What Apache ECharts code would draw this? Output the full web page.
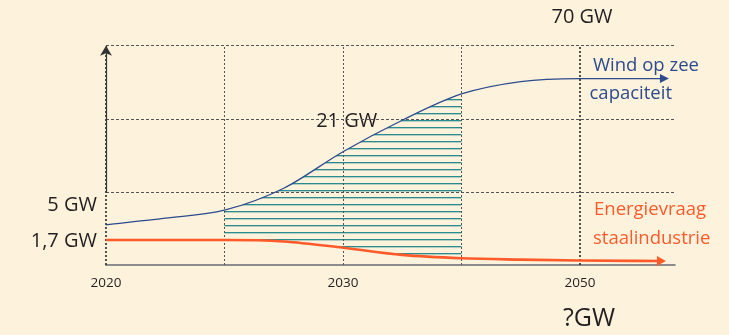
<!DOCTYPE html>
<html>
<head>
<meta charset="utf-8">
<script src="https://cdn.jsdelivr.net/npm/echarts@6/dist/echarts.min.js"></script>
<style>
  html, body { margin: 0; padding: 0; background: #fdf3dd; }
  #chart { width: 729px; height: 335px; }
</style>
</head>
<body>
<div id="chart"></div>
<script>
// Timeline positions: 0 = 2020, 1 = 2025, 2 = 2030, 3 = 2035, 4 = 2050
const steps = [0, 0.5, 1, 1.5, 2, 2.5, 3, 3.5, 4, 4.7];
// Offshore wind capacity (relative height on the sketch scale)
const windCapacity = [0.55, 0.64, 0.75, 1.05, 1.55, 1.98, 2.34, 2.51, 2.55, 2.55];
// Energy demand of the steel industry (same scale)
const steelDemand = [0.342, 0.342, 0.342, 0.322, 0.237, 0.138, 0.092, 0.074, 0.062, 0.055];
// Year labels along the time axis
const tickPositions = [0, 2, 4];
const tickLabels = ['2020', '2030', '2050'];
// Vertical reference lines (2020 and 2050 drawn heavier)
const gridPositions = [0, 1, 2, 3, 4];
const heavyGridPositions = [0, 4];
// Period in which the wind surplus is hatched
const hatchRange = [1, 3];

const FONT = '"Open Sans", "Noto Sans", sans-serif';
const DARK = '#231f20';
const WIND = '#2c4a8c';
const STEEL = '#ff5a2a';
const HATCH = '#2b8c8f';
const Y_TOP = 3;

function hatchPattern() {
  const c = document.createElement('canvas');
  c.width = 8; c.height = 7;
  const g = c.getContext('2d');
  g.fillStyle = HATCH;
  g.fillRect(0, 1, 8, 1);
  g.globalAlpha = 0.35;
  g.fillRect(0, 2, 8, 1);
  return c;
}

// Monotone cubic (Fritsch-Carlson) tangents, so flat stretches stay flat
function tangents(xs, ys) {
  const n = xs.length, d = [], m = [];
  for (let i = 0; i < n - 1; i++) d[i] = (ys[i + 1] - ys[i]) / (xs[i + 1] - xs[i]);
  m[0] = d[0]; m[n - 1] = d[n - 2];
  for (let i = 1; i < n - 1; i++) m[i] = d[i - 1] * d[i] <= 0 ? 0 : (d[i - 1] + d[i]) / 2;
  for (let i = 0; i < n - 1; i++) {
    if (d[i] === 0) { m[i] = 0; m[i + 1] = 0; continue; }
    const a = m[i] / d[i], b = m[i + 1] / d[i], s = a * a + b * b;
    if (s > 9) { const t = 3 / Math.sqrt(s); m[i] = t * a * d[i]; m[i + 1] = t * b * d[i]; }
  }
  return m;
}

// Bezier segments of a curve between indices [from, to], in pixel space
function segments(ys, from, to, api) {
  const m = tangents(steps, ys), out = [];
  for (let i = from; i < to; i++) {
    const h = steps[i + 1] - steps[i];
    out.push({
      p0: api.coord([steps[i], ys[i]]),
      c1: api.coord([steps[i] + h / 3, ys[i] + m[i] * h / 3]),
      c2: api.coord([steps[i + 1] - h / 3, ys[i + 1] - m[i + 1] * h / 3]),
      p1: api.coord([steps[i + 1], ys[i + 1]])
    });
  }
  return out;
}
const pt = (p) => p[0].toFixed(2) + ' ' + p[1].toFixed(2);
function forwardPath(segs) {
  let d = 'M ' + pt(segs[0].p0);
  segs.forEach((s) => { d += ' C ' + pt(s.c1) + ' ' + pt(s.c2) + ' ' + pt(s.p1); });
  return d;
}
function backwardPath(segs) {
  let d = ' L ' + pt(segs[segs.length - 1].p1);
  for (let i = segs.length - 1; i >= 0; i--) {
    const s = segs[i];
    d += ' C ' + pt(s.c2) + ' ' + pt(s.c1) + ' ' + pt(s.p0);
  }
  return d;
}

function arrowHead(seg, color, len, back, half) {
  const e = seg.p1, c = seg.c2;
  let dx = e[0] - c[0], dy = e[1] - c[1];
  const L = Math.hypot(dx, dy) || 1; dx /= L; dy /= L;
  const bx = e[0] - dx * back, by = e[1] - dy * back;
  return {
    type: 'polygon',
    shape: { points: [[e[0] + dx * len, e[1] + dy * len], [bx - dy * half, by + dx * half], [bx + dy * half, by - dx * half]] },
    style: { fill: color }
  };
}

function curveSeries(name, ys, color, width, arrow) {
  return {
    name: name, type: 'custom', coordinateSystem: 'cartesian2d', z: 5, silent: true,
    data: steps.map((x, i) => [x, ys[i]]),
    encode: { x: 0, y: 1 },
    renderItem: (params, api) => {
      if (params.dataIndex !== 0) return null;
      const segs = segments(ys, 0, steps.length - 1, api);
      return {
        type: 'group',
        children: [
          { type: 'path', shape: { pathData: forwardPath(segs) },
            style: { fill: 'none', stroke: color, lineWidth: width, lineJoin: 'round' } },
          arrowHead(segs[segs.length - 1], color, arrow[0], arrow[1], arrow[2])
        ]
      };
    }
  };
}

const chart = echarts.init(document.getElementById('chart'), null, { renderer: 'canvas' });

chart.setOption({
  animation: false,
  backgroundColor: '#fdf3dd',
  grid: { left: 106, top: 45.7, width: 568.8, height: 219.3 },
  xAxis: {
    type: 'value', min: 0, max: 4.8, interval: 1,
    axisLine: { show: true, lineStyle: { color: '#8c8c8c', width: 2 } },
    axisTick: { show: false },
    splitLine: { show: false },
    axisLabel: {
      margin: 11, fontSize: 13.5, color: DARK, fontFamily: FONT,
      formatter: (v) => { const i = tickPositions.indexOf(v); return i >= 0 ? tickLabels[i] : ''; }
    }
  },
  yAxis: {
    type: 'value', min: 0, max: Y_TOP, interval: 1,
    axisLine: { show: false },
    axisTick: { show: false },
    axisLabel: { show: false },
    splitLine: { show: true, lineStyle: { color: '#555', width: 1, type: [3, 2] } }
  },
  series: [
    // hatched surplus between demand and wind capacity
    {
      type: 'custom', coordinateSystem: 'cartesian2d', z: 2, silent: true,
      data: steps.map((x, i) => [x, steelDemand[i], windCapacity[i]]),
      encode: { x: 0, y: [1, 2] },
      renderItem: (params, api) => {
        if (params.dataIndex !== 0) return null;
        const from = steps.indexOf(hatchRange[0]), to = steps.indexOf(hatchRange[1]);
        const top = segments(windCapacity, from, to, api);
        const bottom = segments(steelDemand, from, to, api);
        return {
          type: 'path',
          shape: { pathData: forwardPath(top) + backwardPath(bottom) + ' Z' },
          style: { fill: { image: hatchPattern(), repeat: 'repeat' }, stroke: null }
        };
      }
    },
    // vertical year lines and the vertical axis with its arrow
    {
      type: 'line', z: 3,
      data: gridPositions.map((x) => [x, 0]), symbol: 'none', silent: true,
      lineStyle: { opacity: 0 },
      markLine: {
        silent: true, symbol: 'none', label: { show: false },
        data: gridPositions.map((x) => ({
          xAxis: x,
          lineStyle: heavyGridPositions.indexOf(x) >= 0
            ? { color: '#2a2a2a', width: 1.6, type: [2, 2] }
            : { color: '#555', width: 1, type: [2, 2] }
        })).concat([[
          { coord: [0, 1], symbol: 'none' },
          { coord: [0, Y_TOP], symbol: 'arrow', symbolSize: [9, 10],
            lineStyle: { color: '#333', width: 1.2, type: 'solid' } }
        ]])
      }
    },
    curveSeries('Wind op zee capaciteit', windCapacity, WIND, 1.3, [6, 3, 4.5]),
    curveSeries('Energievraag staalindustrie', steelDemand, STEEL, 2.6, [3, 6, 5])
  ],
  graphic: [
    { type: 'text', x: 582, y: 17.2, silent: true, style: { text: '70 GW', fill: DARK, font: '20px ' + FONT, align: 'center', verticalAlign: 'middle' } },
    { type: 'text', x: 346.7, y: 121.5, silent: true, style: { text: '21 GW', fill: DARK, font: '20px ' + FONT, align: 'center', verticalAlign: 'middle' } },
    { type: 'text', x: 97, y: 205, silent: true, style: { text: '5 GW', fill: DARK, font: '20px ' + FONT, align: 'right', verticalAlign: 'middle' } },
    { type: 'text', x: 97, y: 241.3, silent: true, style: { text: '1,7 GW', fill: DARK, font: '20px ' + FONT, align: 'right', verticalAlign: 'middle' } },
    { type: 'text', x: 593, y: 66.1, silent: true, style: { text: 'Wind op zee', fill: WIND, font: '18.5px ' + FONT, align: 'left', verticalAlign: 'middle' } },
    { type: 'text', x: 589.5, y: 93.8, silent: true, style: { text: 'capaciteit', fill: WIND, font: '18.5px ' + FONT, align: 'left', verticalAlign: 'middle' } },
    { type: 'text', x: 594, y: 210.1, silent: true, style: { text: 'Energievraag', fill: STEEL, font: '18.5px ' + FONT, align: 'left', verticalAlign: 'middle' } },
    { type: 'text', x: 593, y: 238.5, silent: true, style: { text: 'staalindustrie', fill: STEEL, font: '18.5px ' + FONT, align: 'left', verticalAlign: 'middle' } },
    { type: 'text', x: 589, y: 319.3, silent: true, style: { text: '?GW', fill: DARK, font: '25px ' + FONT, align: 'center', verticalAlign: 'middle' } }
  ]
});
</script>
</body>
</html>
